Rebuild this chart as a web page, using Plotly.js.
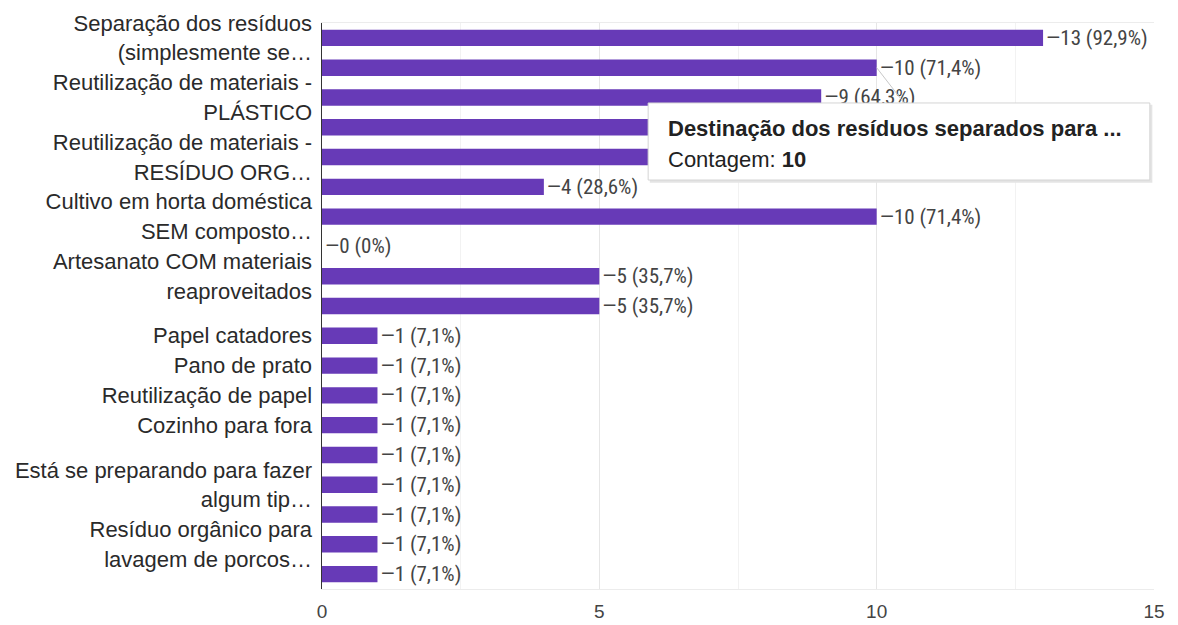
<!DOCTYPE html>
<html>
<head>
<meta charset="utf-8">
<script src="https://cdn.plot.ly/plotly-3.0.1.min.js"></script>
<style>html,body{margin:0;padding:0;background:#fff;}#chart{width:1178px;height:625px;}</style>
</head>
<body>
<div id="chart"></div>
<script>
// Visible y-axis labels per bar (top to bottom); empty = label not shown in the original
const yLabelLines = [
  ["Separação dos resíduos", "(simplesmente se…"],
  [],
  ["Reutilização de materiais -", "PLÁSTICO"],
  [],
  ["Reutilização de materiais -", "RESÍDUO ORG…"],
  [],
  ["Cultivo em horta doméstica", "SEM composto…"],
  [],
  ["Artesanato COM materiais", "reaproveitados"],
  [],
  ["Papel catadores"],
  ["Pano de prato"],
  ["Reutilização de papel"],
  ["Cozinho para fora"],
  [],
  ["Está se preparando para fazer", "algum tip…"],
  [],
  ["Resíduo orgânico para", "lavagem de porcos…"],
  []
];
// Counts (bars 4 and 5 are hidden behind the tooltip in the original: estimated)
const counts = [13, 10, 9, 9, 8, 4, 10, 0, 5, 5, 1, 1, 1, 1, 1, 1, 1, 1, 1];
const pctLabels = ["92,9%", "71,4%", "64,3%", "64,3%", "57,1%", "28,6%", "71,4%", "0%", "35,7%", "35,7%",
  "7,1%", "7,1%", "7,1%", "7,1%", "7,1%", "7,1%", "7,1%", "7,1%", "7,1%"];
const tooltipTitle = "Destinação dos resíduos separados para ...";
const tooltipLabel = "Contagem";
const tooltipIndex = 1;
const xTicks = [0, 5, 10, 15];

const idx = counts.map((_, i) => i);
const tickvals = [], ticktext = [];
yLabelLines.forEach((lines, i) => {
  if (lines.length === 1) { tickvals.push(i); ticktext.push(lines[0]); }
  else if (lines.length === 2) {
    tickvals.push(i - 0.5); ticktext.push(lines[0]);
    tickvals.push(i + 0.5); ticktext.push(lines[1]);
  }
});

const FONT = "Arial, 'Liberation Sans', sans-serif";
const NARROW = "'Liberation Sans Narrow', 'Arial Narrow', 'Roboto Condensed', Arial, sans-serif";
const trace = {
  type: "bar",
  orientation: "h",
  x: counts,
  y: idx,
  width: 0.55,
  marker: {color: "#673ab7"},
  text: counts.map((c, i) => "—" + c + " (" + pctLabels[i] + ")"),
  textposition: "outside",
  constraintext: "none",
  cliponaxis: false,
  textfont: {family: NARROW, size: 21, color: "#444"},
  hoverinfo: "none"
};

// Tooltip overlay geometry (paper coordinates of the popup box)
const tipBox = {x0: 0.392, x1: 0.995, y0: 0.7226, y1: 0.8587};

const layout = {
  width: 1178, height: 625,
  margin: {l: 322, r: 24, t: 23, b: 36},
  paper_bgcolor: "#fff", plot_bgcolor: "#fff",
  showlegend: false,
  font: {family: FONT, size: 19, color: "#333"},
  xaxis: {
    range: [0, 15],
    tickvals: xTicks,
    ticktext: xTicks.map(String),
    showgrid: true, gridcolor: "#e6e6e6", gridwidth: 1,
    minor: {dtick: 2.5, showgrid: true, gridcolor: "#f2f2f2"},
    zeroline: false,
    showline: true, linecolor: "#ececec", mirror: true,
    ticks: "", ticklabelstandoff: 5,
    tickfont: {family: FONT, size: 19, color: "#444"},
    fixedrange: true
  },
  yaxis: {
    range: [counts.length - 0.5, -0.5],
    tickmode: "array", tickvals: tickvals, ticktext: ticktext,
    showgrid: false, zeroline: false,
    showline: true, linecolor: "#333", linewidth: 1.5,
    ticks: "", ticklabelstandoff: 4,
    tickfont: {family: FONT, size: 22, color: "#2a2a2a"},
    fixedrange: true
  },
  shapes: [
    // pointer from the hovered bar end to the popup
    {type: "line", layer: "above", xref: "x", yref: "y",
     x0: counts[tooltipIndex], y0: tooltipIndex, x1: counts[tooltipIndex] + 0.5, y1: tooltipIndex + 1.2,
     line: {color: "#c8c8c8", width: 1}},
    // soft shadow
    {type: "rect", layer: "above", xref: "paper", yref: "paper",
     x0: tipBox.x0 + 0.002, x1: tipBox.x1 + 0.003, y0: tipBox.y0 - 0.005, y1: tipBox.y1 - 0.003,
     fillcolor: "#e4e4e4", line: {width: 0}},
    // popup box
    {type: "rect", layer: "above", xref: "paper", yref: "paper",
     x0: tipBox.x0, x1: tipBox.x1, y0: tipBox.y0, y1: tipBox.y1,
     fillcolor: "#ffffff", line: {color: "#d4d4d4", width: 1}}
  ],
  annotations: [
    {xref: "paper", yref: "paper", x: tipBox.x0 + 0.022, y: tipBox.y1 - 0.045,
     xanchor: "left", yanchor: "middle", showarrow: false,
     text: "<b>" + tooltipTitle + "</b>",
     font: {family: FONT, size: 22, color: "#222"}},
    {xref: "paper", yref: "paper", x: tipBox.x0 + 0.022, y: tipBox.y1 - 0.099,
     xanchor: "left", yanchor: "middle", showarrow: false,
     text: tooltipLabel + ": <b>" + counts[tooltipIndex] + "</b>",
     font: {family: FONT, size: 22, color: "#222"}}
  ]
};

Plotly.newPlot("chart", [trace], layout, {displayModeBar: false, staticPlot: true});
</script>
</body>
</html>
